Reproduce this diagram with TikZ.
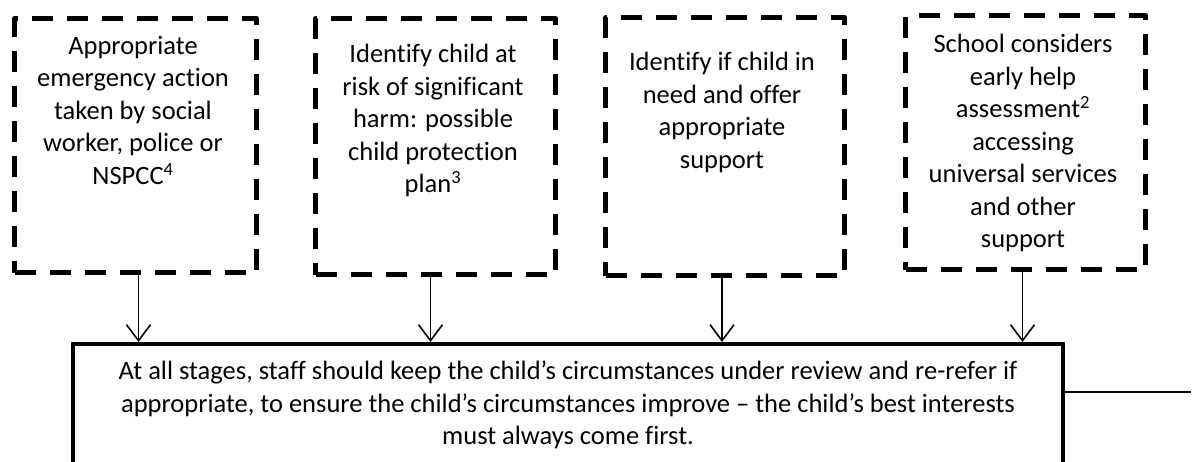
\documentclass[tikz,border=0pt]{standalone}
\usepackage{fontspec}
\setmainfont[Ligatures=NoCommon]{Carlito}
\usetikzlibrary{arrows.meta}
\tikzset{
  dbox/.style={draw, line width=5pt, dash pattern=on 21pt off 14pt, line join=round, line cap=butt},
  btext/.style={anchor=north, inner sep=0pt, align=center, font=\fontsize{26.5}{32.5}\selectfont},
  mainbox/.style={draw, line width=4pt, minimum width=990pt, minimum height=160pt, anchor=north, inner sep=0pt},
  arr/.style={line width=1.6pt, -{Straight Barb[length=16pt,width=24pt,line width=1.6pt]}},
  side/.style={line width=2.5pt}
}
\begin{document}
\begin{tikzpicture}[x=1pt,y=1pt]
\useasboundingbox (0,0) rectangle (1194,-461);
\clip (0,0) rectangle (1194,-461);
% dashed boxes
\node[dbox, minimum width=242pt, minimum height=254pt, anchor=north west, inner sep=0pt] (b1) at (12,-16) {};
\node[dbox, minimum width=240pt, minimum height=256pt, anchor=north west, inner sep=0pt] (b2) at (313,-16) {};
\node[dbox, minimum width=239pt, minimum height=258pt, anchor=north west, inner sep=0pt] (b3) at (603,-15) {};
\node[dbox, minimum width=240pt, minimum height=254pt, anchor=north west, inner sep=0pt] (b4) at (903,-13) {};
% texts
\node[btext] (t1) at (133,-36) {Appropriate\\emergency action\\taken by social\\worker, police or\\NSPCC\textsuperscript{4}};
\node[btext] (t2) at (433,-44) {Identify child at\\risk of significant\\harm: possible\\child protection\\plan\textsuperscript{3}};
\node[btext] (t3) at (722,-52) {Identify if child in\\need and offer\\appropriate\\support};
\node[btext] (t4) at (1023,-34) {School considers\\early help\\assessment\textsuperscript{2}\\accessing\\universal services\\and other\\support};
% main box
\node[mainbox] (m) at (568,-342) {};
\node[btext] (mt) at (568,-361) {At all stages, staff should keep the child’s circumstances under review and re-refer if\\appropriate, to ensure the child’s circumstances improve – the child’s best interests\\must always come first.};
% arrows
\draw[arr] ([xshift=3pt]b1.south) -- ([xshift=3pt]b1.south |- m.north);
\draw[arr] ([xshift=-5pt]b2.south) -- ([xshift=-5pt]b2.south |- m.north);
\draw[arr] ([xshift=-3pt]b3.south) -- ([xshift=-3pt]b3.south |- m.north);
\draw[arr] ([xshift=-3pt]b4.south) -- ([xshift=-3pt]b4.south |- m.north);
% side line
\coordinate (sideend) at (1191,-392);
\draw[side] (m.north east |- sideend) -- (sideend);
\end{tikzpicture}
\end{document}
